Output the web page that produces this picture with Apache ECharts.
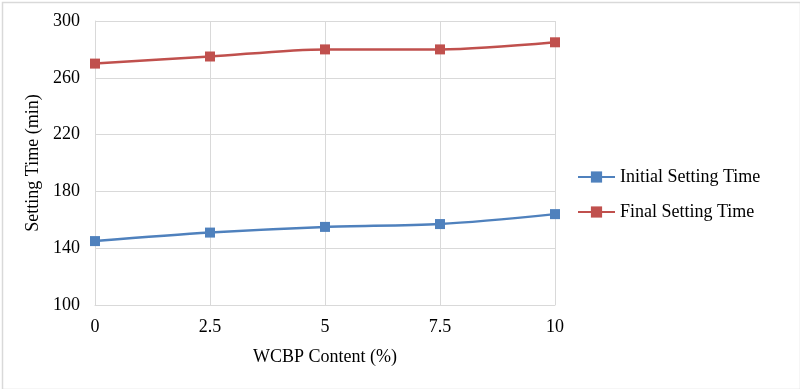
<!DOCTYPE html>
<html>
<head>
<meta charset="utf-8">
<script src="https://cdn.jsdelivr.net/npm/echarts@6/dist/echarts.min.js"></script>
<style>html,body{margin:0;padding:0;background:#fff}#c{width:800px;height:389px}</style>
</head>
<body>
<div id="c"></div>
<script>
var categories = ['0', '2.5', '5', '7.5', '10'];
var initialSetting = [145, 151, 155, 157, 164];
var finalSetting = [270, 275, 280, 280, 285];
var yTicks = { min: 100, max: 300, interval: 40 };

var chart = echarts.init(document.getElementById('c'));
var font = 'Liberation Serif';
chart.setOption({
  animation: false,
  backgroundColor: '#fff',
  graphic: [{
    type: 'rect', left: 0, top: 0,
    shape: { x: 0.5, y: 0.5, width: 798, height: 387 },
    style: { fill: 'none', stroke: '#d9d9d9', lineWidth: 1.5 }
  }],
  grid: { left: 95, right: 245, top: 21, bottom: 84, containLabel: false },
  legend: {
    orient: 'vertical', left: 572, top: 163, itemGap: 17,
    itemWidth: 37, itemHeight: 14,
    textStyle: { fontFamily: font, fontSize: 18, color: '#000' },
    data: ['Initial Setting Time', 'Final Setting Time']
  },
  xAxis: {
    type: 'category', data: categories, boundaryGap: false,
    name: 'WCBP Content (%)', nameLocation: 'middle', nameGap: 43,
    nameTextStyle: { fontFamily: font, fontSize: 18, color: '#000' },
    axisLine: { lineStyle: { color: '#d9d9d9', width: 1 } },
    axisTick: { show: false },
    axisLabel: { fontFamily: font, fontSize: 18, color: '#000', margin: 13 },
    splitLine: { show: true, lineStyle: { color: '#d9d9d9', width: 1 } }
  },
  yAxis: {
    type: 'value', min: yTicks.min, max: yTicks.max, interval: yTicks.interval,
    name: 'Setting Time (min)', nameLocation: 'middle', nameGap: 52,
    nameTextStyle: { fontFamily: font, fontSize: 18, color: '#000' },
    axisLine: { show: true, lineStyle: { color: '#d9d9d9', width: 1 } },
    axisTick: { show: false },
    axisLabel: { fontFamily: font, fontSize: 18, color: '#000', margin: 15 },
    splitLine: { show: true, lineStyle: { color: '#d9d9d9', width: 1 } }
  },
  series: [{
    name: 'Initial Setting Time', type: 'line', data: initialSetting,
    smooth: 0.3, symbol: 'rect', symbolSize: 10,
    itemStyle: { color: '#4F81BD' }, lineStyle: { color: '#4F81BD', width: 2.5 }
  }, {
    name: 'Final Setting Time', type: 'line', data: finalSetting,
    smooth: 0.3, symbol: 'rect', symbolSize: 10,
    itemStyle: { color: '#C0504D' }, lineStyle: { color: '#C0504D', width: 2.5 }
  }]
});
</script>
</body>
</html>
